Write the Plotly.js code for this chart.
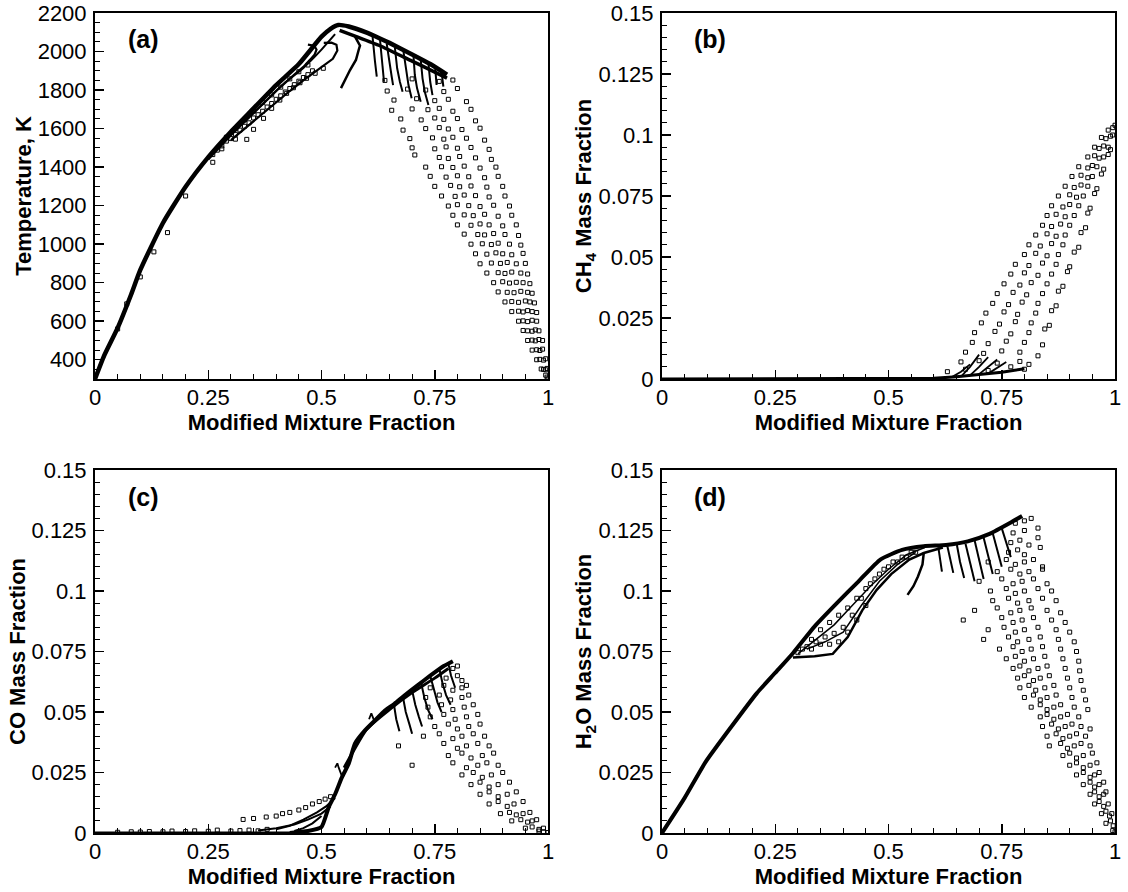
<!DOCTYPE html>
<html><head><meta charset="utf-8">
<script src="https://cdn.plot.ly/plotly-3.0.1.min.js"></script>
<style>html,body{margin:0;padding:0;background:#fff}#chart{width:1128px;height:892px}</style>
</head><body><div id="chart"></div>
<script>
// ---------- Panel (a): Temperature ----------
const aMainX = [0, 0.02, 0.05, 0.08, 0.1, 0.15, 0.2, 0.25, 0.3, 0.35, 0.4, 0.45, 0.5, 0.52, 0.537, 0.56, 0.6, 0.629, 0.65, 0.7, 0.74, 0.777];
const aMainT = [300, 420, 565, 740, 866, 1110, 1298, 1452, 1584, 1705, 1826, 1935, 2077, 2118, 2138, 2130, 2098, 2068, 2045, 1985, 1935, 1880];
const aBandLowX = [0.54, 0.58, 0.629, 0.7, 0.74, 0.777];
const aBandLowT = [2110, 2075, 2030, 1950, 1905, 1862];
const aRise2X = [0.25, 0.3, 0.35, 0.4, 0.44, 0.46, 0.475, 0.485, 0.489, 0.484, 0.47];
const aRise2T = [1440, 1565, 1680, 1795, 1880, 1920, 1958, 1985, 2010, 2030, 2036];
const aRise3X = [0.3, 0.35, 0.4, 0.43, 0.46, 0.49, 0.51, 0.525, 0.535, 0.533, 0.522, 0.505];
const aRise3T = [1540, 1640, 1740, 1795, 1850, 1900, 1935, 1962, 2005, 2035, 2046, 2045];
const aRise4X = [0.28, 0.33, 0.38, 0.42, 0.46, 0.5, 0.53];
const aRise4T = [1520, 1640, 1750, 1840, 1915, 2010, 2090];
const aHookX = [0.574, 0.585, 0.582, 0.576, 0.563, 0.552, 0.543];
const aHookT = [2077, 2030, 2008, 1956, 1904, 1851, 1810];
const aSparseX = [0.335, 0.35, 0.372, 0.39, 0.408, 0.423, 0.438, 0.4525, 0.467, 0.486, 0.504];
const aSparseT = [1544, 1596, 1653, 1705, 1748, 1783, 1812, 1838, 1861, 1887, 1913];
const aBandPtsX = [.26,.27,.28,.29,.30,.31,.32,.33,.34,.35,.36,.37,.38,.39,.40,.41,.42,.43,.44,.45,.46,.47,.48,
                   .29,.31,.33,.35,.37,.39,.41,.43,.45,.47];
const aBandPtsT = [1465,1488,1510,1535,1548,1570,1592,1612,1630,1655,1672,1690,1712,1730,1752,1770,1790,1808,1828,1846,1865,1880,1900,
                   1555,1600,1645,1690,1735,1775,1815,1858,1895,1930];
const aStrayX = [0.05, 0.07, 0.1, 0.13, 0.16, 0.2, 0.26, 0.28, 0.31];
const aStrayT = [560, 690, 830, 960, 1060, 1250, 1425, 1495, 1545];
const aStrokeX = [[.612,.614,.618,.622],[.629,.633,.636,.638],[.644,.650,.655,.658],[.662,.667,.673,.679],[.681,.687,.692,.699],[.703,.706,.711,.719],[.719,.723,.728,.736],[.736,.740,.745],[.751,.754],[.765,.769]];
const aStrokeT = [[2095,2040,1950,1870],[2065,1965,1895,1843],[2040,1930,1869,1826],[2020,1913,1843,1791],[2000,1895,1826,1757],[1980,1878,1809,1739],[1960,1861,1791,1722],[1940,1843,1774],[1915,1826],[1895,1818]];
const aCloudX = [
.64,.70,.76,.79,
.645,.69,.73,.77,.80,
.66,.71,.75,.78,.82,
.655,.70,.735,.76,.79,.83,
.675,.72,.75,.77,.80,.84,
.68,.73,.76,.78,.81,.85,
.695,.745,.77,.79,.82,.86,
.70,.75,.775,.80,.83,.87,
.706,.76,.78,.805,.84,.875,
.73,.765,.79,.815,.85,.885,
.74,.775,.80,.825,.86,.89,
.75,.785,.805,.83,.865,.90,
.765,.795,.815,.84,.87,.905,
.78,.80,.825,.85,.88,.915,
.79,.815,.835,.86,.89,.92,
.80,.83,.85,.87,.90,.93,
.815,.845,.86,.88,.905,.935,
.83,.855,.875,.89,.915,.94,
.84,.865,.885,.90,.92,.945,
.85,.875,.895,.91,.93,.95,
.865,.89,.905,.92,.94,.955,
.88,.90,.915,.93,.945,.96,
.89,.91,.925,.94,.955,.965,
.905,.92,.935,.95,.96,.97,
.92,.935,.945,.955,.965,.975,
.935,.945,.955,.965,.975,
.945,.955,.965,.972,.98,
.955,.965,.972,.98,.988,
.965,.975,.982,.988,
.975,.982,.99,.995,
.985,.99,.995,.998,
.995,.998,1.0];
const aCloudT = [
1850,1858,1845,1852,
1795,1805,1800,1792,1808,
1748,1755,1745,1752,1740,
1695,1702,1698,1705,1690,1700,
1650,1645,1655,1648,1652,1640,
1592,1600,1605,1598,1595,1602,
1548,1552,1545,1555,1550,1540,
1500,1495,1505,1498,1502,1492,
1463,1450,1445,1455,1448,1440,
1400,1402,1398,1405,1395,1400,
1352,1348,1355,1350,1345,1352,
1300,1305,1298,1302,1296,1300,
1250,1248,1255,1252,1245,1250,
1198,1205,1200,1195,1202,1198,
1150,1152,1148,1155,1145,1150,
1100,1098,1105,1100,1095,1100,
1052,1050,1048,1055,1050,1045,
1000,1002,998,1005,1000,995,
950,948,955,950,945,952,
898,902,900,905,898,900,
850,852,848,855,850,845,
800,805,798,802,800,795,
752,750,748,755,750,745,
700,702,698,705,700,695,
650,652,648,655,650,645,
600,602,598,605,600,
552,550,548,555,550,
500,502,498,505,500,
450,452,448,455,
400,402,398,405,
352,350,348,355,
320,310,300];

// ---------- Panel (b): CH4 ----------
const bBaseX = [0, 0.55, 0.6, 0.65, 0.7, 0.75, 0.8];
const bBaseY = [0, 0, 0.0003, 0.0009, 0.0018, 0.0028, 0.0042];
const bStrokeX = [[.64,.66,.68],[.66,.68,.70],[.68,.70,.72],[.70,.72,.74],[.72,.74,.76]];
const bStrokeY = [[.0008,.003,.006],[.001,.005,.01],[.0015,.005,.009],[.002,.005,.008],[.0022,.0045,.007]];
const bCloudX = [
.63,.67,.72,.77,.80,
.66,.70,.74,.79,.81,
.67,.71,.75,.79,.83,
.685,.72,.76,.80,.84,
.69,.735,.77,.81,.845,
.705,.745,.78,.815,.855,
.715,.755,.785,.825,.86,
.73,.765,.795,.83,.87,
.74,.775,.805,.84,.875,
.755,.79,.815,.85,.885,
.77,.80,.83,.86,.895,
.78,.81,.84,.87,.90,
.80,.825,.85,.875,.91,
.81,.835,.86,.885,.92,
.825,.85,.87,.89,.925,
.84,.86,.88,.90,.935,
.85,.87,.89,.91,.94,
.86,.885,.90,.92,.945,
.875,.90,.915,.93,.955,
.89,.91,.925,.94,.96,
.905,.925,.94,.95,.97,
.92,.94,.95,.96,.975,
.94,.955,.965,.975,.985,
.955,.965,.975,.985,.99,
.97,.98,.99,.995,
.985,.995,1.0];
const bCloudY = [
.003,.004,.0035,.005,.004,
.007,.0075,.0065,.0072,.006,
.011,.0105,.0115,.011,.0095,
.015,.0145,.0155,.015,.014,
.019,.0195,.0185,.019,.0205,
.023,.0225,.0235,.023,.022,
.027,.0275,.0265,.027,.028,
.031,.0305,.0315,.031,.03,
.035,.0355,.0345,.035,.036,
.039,.0385,.0395,.039,.038,
.043,.0435,.0425,.043,.044,
.047,.0465,.0475,.047,.046,
.051,.0515,.0505,.051,.052,
.055,.0545,.0555,.055,.054,
.059,.0595,.0585,.059,.06,
.063,.0625,.0635,.063,.062,
.067,.0675,.0665,.067,.068,
.071,.0705,.0715,.071,.07,
.075,.0755,.0745,.075,.076,
.079,.0785,.0795,.079,.078,
.083,.0835,.0825,.083,.084,
.087,.0865,.0875,.087,.086,
.091,.0915,.0905,.091,.092,
.095,.0945,.0955,.095,.094,
.099,.0985,.0995,.1,
.102,.103,.104];

// ---------- Panel (c): CO ----------
const cZeroX = [0, 0.45];
const cZeroY = [0, 0];
const cMainX = [0.43, 0.47, 0.5, 0.516, 0.53, 0.545, 0.56, 0.574, 0.596, 0.618, 0.64, 0.661, 0.683, 0.712, 0.74, 0.77, 0.79];
const cMainY = [0, 0.0008, 0.0025, 0.0107, 0.016, 0.023, 0.0286, 0.037, 0.0424, 0.0465, 0.0506, 0.0534, 0.0568, 0.061, 0.065, 0.069, 0.071];
const cMain2X = [0.55, 0.6, 0.65, 0.7, 0.75, 0.78];
const cMain2Y = [0.027, 0.043, 0.051, 0.058, 0.064, 0.068];
const cLowX = [[.36,.40,.44,.47,.50,.52],[.40,.43,.46,.49,.51,.53],[.44,.46,.48,.50]];
const cLowY = [[.001,.002,.0035,.0055,.008,.011],[.0015,.003,.0055,.0085,.011,.0145],[.0008,.002,.004,.007]];
const cHookX = [[.53,.535,.538,.542,.545],[.605,.61,.613,.617]];
const cHookY = [[.027,.0288,.027,.025,.0235],[.047,.0495,.048,.046]];
const cStrokeX = [[.66,.665,.672],[.68,.686,.694,.70],[.70,.707,.715,.722],[.72,.727,.735,.745],[.74,.748,.756,.765],[.76,.767,.775,.785],[.78,.786,.795]];
const cStrokeY = [[.053,.047,.042],[.056,.05,.045,.041],[.059,.053,.048,.044],[.062,.056,.051,.047],[.065,.059,.054,.05],[.068,.062,.057,.053],[.07,.065,.06]];
const cSparseX = [.327,.35,.378,.40,.414,.43,.45,.465,.48,.495,.508,.52];
const cSparseY = [.0056,.006,.0066,.007,.008,.0085,.0095,.0105,.012,.013,.014,.015];
const cTinyX = [.05,.08,.1,.12,.15,.17,.2,.22,.25,.27,.3,.32,.34,.36,.38];
const cTinyY = [.0003,.0005,.0004,.0006,.0005,.0008,.0006,.0009,.0007,.0012,.0008,.001,.0012,.0009,.0015];
const cCloudX = [
.79,.80,
.775,.80,.81,
.74,.77,.79,.81,.82,
.73,.76,.785,.81,.825,
.735,.765,.79,.815,.835,
.74,.77,.795,.82,.845,
.75,.78,.80,.825,.85,
.725,.76,.79,.81,.835,.86,
.67,.77,.80,.82,.845,.87,
.78,.81,.83,.855,.88,
.70,.79,.82,.845,.865,.89,
.81,.835,.855,.875,.90,
.83,.85,.87,.89,.915,
.85,.87,.89,.91,.93,
.87,.89,.91,.925,.945,
.895,.915,.93,.945,.96,
.92,.94,.955,.965,.975,
.95,.965,.98,.99,
.98,.99,1.0];
const cCloudY = [
.068,.069,
.064,.065,.063,
.060,.061,.059,.060,.061,
.056,.057,.055,.056,.057,
.052,.053,.051,.052,.053,
.048,.049,.047,.048,.049,
.044,.045,.043,.044,.045,
.040,.041,.039,.040,.041,.040,
.036,.037,.035,.036,.037,.036,
.032,.033,.031,.032,.033,
.028,.029,.027,.028,.029,.028,
.024,.025,.023,.024,.025,
.020,.021,.019,.020,.021,
.016,.017,.015,.016,.017,
.012,.013,.011,.012,.013,
.008,.0085,.0075,.008,.0085,
.005,.0055,.0045,.005,.0055,
.002,.0025,.0015,.002,
.0008,.0005,.0002];

// ---------- Panel (d): H2O ----------
const dMainX = [0, .05, .0964, .153, .209, .249, .289, .337, .386, .434, .482, .53, .578, .627, .675, .723, .771, .795];
const dMainY = [0, .0145, .0294, .0439, .0577, .066, .0743, .0854, .095, .104, .113, .117, .1185, .119, .1205, .1236, .1284, .131];
const dLowX = [.289, .337, .377, .41, .442, .474, .506, .546, .578, .62];
const dLowY = [.0725, .073, .074, .081, .092, .1005, .107, .113, .1157, .118];
const dMidX = [[.30,.34,.38,.42,.46,.50,.54,.58],[.32,.36,.40,.44,.48,.52,.56]];
const dMidY = [[.074,.080,.086,.094,.102,.109,.115,.118],[.076,.079,.083,.094,.104,.111,.116]];
const dBandPtsX = [.30,.32,.34,.36,.38,.40,.42,.44,.46,.48,.50,.52,.54,.56,
                   .31,.33,.35,.37,.39,.41,.43,.45,.47,.49,.51,.53,.55,
                   .33,.35,.37,.39,.41,.43,.45];
const dBandPtsY = [.0745,.077,.079,.081,.0825,.085,.09,.097,.103,.107,.110,.112,.114,.116,
                   .076,.080,.084,.087,.090,.093,.097,.101,.105,.109,.112,.114,.116,
                   .076,.078,.078,.079,.083,.088,.094];
const dHookX = [.578, .575, .565, .555, .542];
const dHookY = [.116, .111, .106, .102, .0984];
const dStrokeX = [[.61,.614,.618],[.63,.636,.643],[.651,.658,.667],[.67,.68,.69],[.69,.70,.71],[.71,.72,.73],[.73,.74,.75],[.75,.76,.77]];
const dStrokeY = [[.118,.113,.108],[.1185,.113,.1075],[.119,.112,.1054],[.1195,.112,.104],[.121,.113,.105],[.122,.115,.107],[.124,.117,.11],[.126,.12,.114]];
const dCloudX = [
.78,.80,.815,
.775,.80,.83,
.77,.79,.81,.83,
.765,.785,.80,.835,
.72,.76,.78,.80,.82,.84,
.74,.77,.79,.81,.84,
.70,.75,.775,.795,.82,.85,
.725,.76,.78,.80,.83,.86,
.73,.765,.785,.81,.84,.87,
.69,.74,.77,.79,.815,.85,.88,
.665,.75,.775,.795,.82,.86,.89,
.72,.755,.78,.80,.83,.87,.90,
.71,.765,.785,.81,.835,.875,.91,
.745,.775,.795,.815,.84,.88,.915,
.76,.78,.80,.82,.845,.885,.92,
.775,.79,.81,.83,.85,.89,.922,
.785,.80,.82,.835,.855,.895,.925,
.79,.81,.825,.845,.865,.90,.93,
.80,.82,.835,.85,.87,.905,.935,
.815,.835,.85,.865,.88,.91,.94,
.835,.85,.865,.88,.895,.92,
.84,.86,.875,.89,.905,.925,.945,
.85,.87,.885,.90,.915,.935,
.855,.88,.895,.91,.925,.945,
.885,.90,.915,.93,.95,
.90,.915,.93,.945,.96,
.915,.93,.945,.955,.965,
.93,.945,.955,.965,.975,
.945,.955,.965,.975,.98,
.955,.965,.975,.985,
.97,.98,.988,.993,
.98,.99,.996,
.995,1.0];
const dCloudY = [
.128,.129,.130,
.124,.125,.126,
.120,.121,.119,.122,
.116,.117,.115,.118,
.112,.113,.111,.112,.113,.110,
.108,.109,.107,.108,.109,
.104,.105,.103,.104,.105,.103,
.100,.101,.099,.100,.101,.100,
.096,.097,.095,.096,.097,.096,
.092,.093,.091,.092,.093,.092,.091,
.088,.089,.087,.088,.089,.088,.087,
.084,.085,.083,.084,.085,.084,.083,
.080,.081,.079,.080,.081,.080,.079,
.076,.077,.075,.076,.077,.076,.075,
.072,.073,.071,.072,.073,.072,.071,
.068,.069,.067,.068,.069,.068,.067,
.064,.065,.063,.064,.065,.064,.063,
.060,.061,.059,.060,.061,.060,.059,
.056,.057,.055,.056,.057,.056,.055,
.052,.053,.051,.052,.053,.052,.051,
.048,.049,.047,.048,.049,.048,
.044,.045,.043,.044,.045,.044,.043,
.040,.041,.039,.040,.041,.040,
.036,.037,.035,.036,.037,.036,
.032,.033,.031,.032,.033,
.028,.029,.027,.028,.029,
.024,.025,.023,.024,.025,
.020,.021,.019,.020,.021,
.016,.017,.015,.016,.017,
.012,.013,.011,.012,
.008,.009,.007,.008,
.004,.005,.003,
.001,.0005];

const panelLabels = ['(a)', '(b)', '(c)', '(d)'];
const xTitle = 'Modified Mixture Fraction';
const yTitles = ['Temperature, K', 'CH<sub>4</sub> Mass Fraction', 'CO Mass Fraction', 'H<sub>2</sub>O Mass Fraction'];

// ---------- build ----------
const FONT = 'Liberation Sans, Arial, Helvetica, sans-serif';
const traces = [];
function ln(x, y, xa, ya, w, smooth) {
  const line = {color: 'black', width: w};
  if (smooth) { line.shape = 'spline'; line.smoothing = 0.5; }
  traces.push({type: 'scatter', mode: 'lines', x: x, y: y, xaxis: xa, yaxis: ya,
    line: line, hoverinfo: 'skip', showlegend: false});
}
function mk(x, y, xa, ya) {
  traces.push({type: 'scatter', mode: 'markers', x: x, y: y, xaxis: xa, yaxis: ya,
    marker: {symbol: 'square-open', size: 4, color: 'black', line: {width: 1, color: 'black'}},
    hoverinfo: 'skip', showlegend: false});
}
// (a)
ln(aMainX, aMainT, 'x', 'y', 4.5, true);
ln(aBandLowX, aBandLowT, 'x', 'y', 3.5, true);
ln(aRise2X, aRise2T, 'x', 'y', 2.2, false);
ln(aRise3X, aRise3T, 'x', 'y', 2.2, false);
ln(aRise4X, aRise4T, 'x', 'y', 2, true);
ln(aHookX, aHookT, 'x', 'y', 2.5, false);
aStrokeX.forEach((sx, i) => ln(sx, aStrokeT[i], 'x', 'y', 2, false));
mk(aSparseX, aSparseT, 'x', 'y');
mk(aBandPtsX, aBandPtsT, 'x', 'y');
mk(aStrayX, aStrayT, 'x', 'y');
mk(aCloudX, aCloudT, 'x', 'y');
// (b)
ln(bBaseX, bBaseY, 'x2', 'y2', 3, false);
bStrokeX.forEach((sx, i) => ln(sx, bStrokeY[i], 'x2', 'y2', 1.8, false));
mk(bCloudX, bCloudY, 'x2', 'y2');
// (c)
ln(cZeroX, cZeroY, 'x3', 'y3', 3, false);
ln(cMainX, cMainY, 'x3', 'y3', 4, true);
ln(cMain2X, cMain2Y, 'x3', 'y3', 3, true);
cLowX.forEach((sx, i) => ln(sx, cLowY[i], 'x3', 'y3', 2, false));
cHookX.forEach((sx, i) => ln(sx, cHookY[i], 'x3', 'y3', 1.8, false));
cStrokeX.forEach((sx, i) => ln(sx, cStrokeY[i], 'x3', 'y3', 2, false));
mk(cSparseX, cSparseY, 'x3', 'y3');
mk(cTinyX, cTinyY, 'x3', 'y3');
mk(cCloudX, cCloudY, 'x3', 'y3');
// (d)
ln(dMainX, dMainY, 'x4', 'y4', 4, true);
ln(dLowX, dLowY, 'x4', 'y4', 2.5, false);
dMidX.forEach((sx, i) => ln(sx, dMidY[i], 'x4', 'y4', 1.5, false));
mk(dBandPtsX, dBandPtsY, 'x4', 'y4');
ln(dHookX, dHookY, 'x4', 'y4', 2.5, false);
dStrokeX.forEach((sx, i) => ln(sx, dStrokeY[i], 'x4', 'y4', 2, false));
mk(dCloudX, dCloudY, 'x4', 'y4');

const xDomL = [95 / 1128, 548 / 1128], xDomR = [662 / 1128, 1115 / 1128];
const yDomT = [1 - 379 / 892, 1 - 13 / 892], yDomB = [1 - 833 / 892, 1 - 470 / 892];
const tickFont = {family: FONT, size: 22, color: 'black'};
const titleFont = {family: FONT, size: 22, color: 'black', weight: 'bold'};
function xax(dom, anchor) {
  return {domain: dom, anchor: anchor, range: [0, 1], tick0: 0, dtick: 0.25, ticks: 'inside', ticklen: 9, tickwidth: 1.5,
    tickcolor: 'black', showline: true, linewidth: 2, linecolor: 'black', mirror: true, showgrid: false, zeroline: false,
    tickfont: tickFont, ticklabelstandoff: -2,
    minor: {dtick: 0.05, tick0: 0, ticks: 'inside', ticklen: 5, tickwidth: 1, tickcolor: 'black', showgrid: false},
    title: {text: xTitle, font: titleFont, standoff: 5}};
}
function yax(dom, anchor, range, dtick, mdtick, title) {
  return {domain: dom, anchor: anchor, range: range, tick0: 0, dtick: dtick, ticks: 'inside', ticklen: 9, tickwidth: 1.5,
    tickcolor: 'black', showline: true, linewidth: 2, linecolor: 'black', mirror: true, showgrid: false, zeroline: false,
    tickfont: tickFont, ticklabelstandoff: 2,
    minor: {dtick: mdtick, tick0: 0, ticks: 'inside', ticklen: 5, tickwidth: 1, tickcolor: 'black', showgrid: false},
    title: {text: title, font: titleFont, standoff: 0}};
}
const annots = panelLabels.map((t, i) => ({
  text: t, xref: 'paper', yref: 'paper', showarrow: false,
  x: (i % 2 === 0 ? 143 : 710) / 1128, y: 1 - (i < 2 ? 39 : 497) / 892,
  xanchor: 'center', yanchor: 'middle', font: {family: FONT, size: 25, color: 'black', weight: 'bold'}
}));
const layout = {
  width: 1128, height: 892, margin: {l: 0, r: 0, t: 0, b: 0}, paper_bgcolor: 'white', plot_bgcolor: 'white',
  showlegend: false,
  xaxis: xax(xDomL, 'y'), yaxis: yax(yDomT, 'x', [300, 2200], 200, 50, yTitles[0]),
  xaxis2: xax(xDomR, 'y2'), yaxis2: yax(yDomT, 'x2', [0, 0.15], 0.025, 0.005, yTitles[1]),
  xaxis3: xax(xDomL, 'y3'), yaxis3: yax(yDomB, 'x3', [0, 0.15], 0.025, 0.005, yTitles[2]),
  xaxis4: xax(xDomR, 'y4'), yaxis4: yax(yDomB, 'x4', [0, 0.15], 0.025, 0.005, yTitles[3]),
  annotations: annots
};
Plotly.newPlot('chart', traces, layout, {staticPlot: true, displayModeBar: false});
</script></body></html>
